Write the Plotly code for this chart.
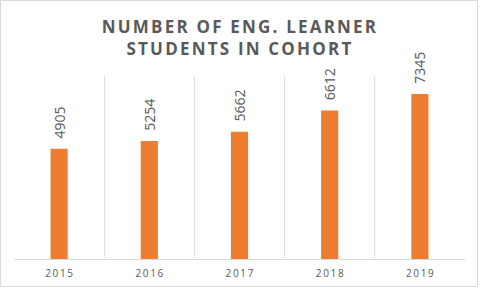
import plotly.graph_objects as go

years = ["2015", "2016", "2017", "2018", "2019"]
students = [4905, 5254, 5662, 6612, 7345]
title_lines = ["NUMBER OF ENG. LEARNER", "STUDENTS IN COHORT"]

W, H = 480, 288
ml, mr, mt, mb = 14, 15, 77, 29
GRAY = "#595959"
GRID = "#d9d9d9"

def spaced(s, sp):
    return f"<span style='letter-spacing:{sp}px'>{s}</span>"

fig = go.Figure(go.Bar(
    x=years, y=students,
    marker=dict(color="#ED7D31", line=dict(width=0)),
    text=["\u00a0\u00a0" + str(v) for v in students],
    textposition="outside", textangle=-90, constraintext="none",
    textfont=dict(family="Open Sans", size=14, color=GRAY),
    cliponaxis=False,
))

fig.update_layout(
    width=W, height=H,
    margin=dict(l=ml, r=mr, t=mt, b=mb, autoexpand=False),
    paper_bgcolor="white", plot_bgcolor="white",
    bargap=0.81,
    showlegend=False,
    title=dict(
        text="<br>".join(spaced(t, 2.2) for t in title_lines),
        x=0.5, xanchor="center", y=1 - 33 / H, yanchor="middle",
        font=dict(family="Open Sans", size=17, color=GRAY, weight="bold"),
    ),
    xaxis=dict(
        type="category", automargin=False,
        tickmode="array", tickvals=years,
        ticktext=["\u2009".join(y) for y in years],
        tickson="boundaries", ticks="", ticklabelstandoff=5,
        showgrid=True, gridcolor="#c8c8c8", griddash="1px,1px", gridwidth=1,
        showline=True, linecolor=GRID, linewidth=1,
        tickfont=dict(family="Open Sans", size=10, color=GRAY),
        range=[-0.5, 4.5],
    ),
    yaxis=dict(
        range=[0, 8100], showgrid=False, showticklabels=False,
        zeroline=False, showline=False, automargin=False,
    ),
    shapes=[dict(
        type="rect", xref="paper", yref="paper",
        x0=-(ml - 0.5) / (W - ml - mr), x1=1 + (mr - 2.5) / (W - ml - mr),
        y0=-(mb - 1.5) / (H - mt - mb), y1=1 + (mt - 0.5) / (H - mt - mb),
        line=dict(color=GRID, width=1), layer="below",
    )],
)

fig.write_html("out.html")
